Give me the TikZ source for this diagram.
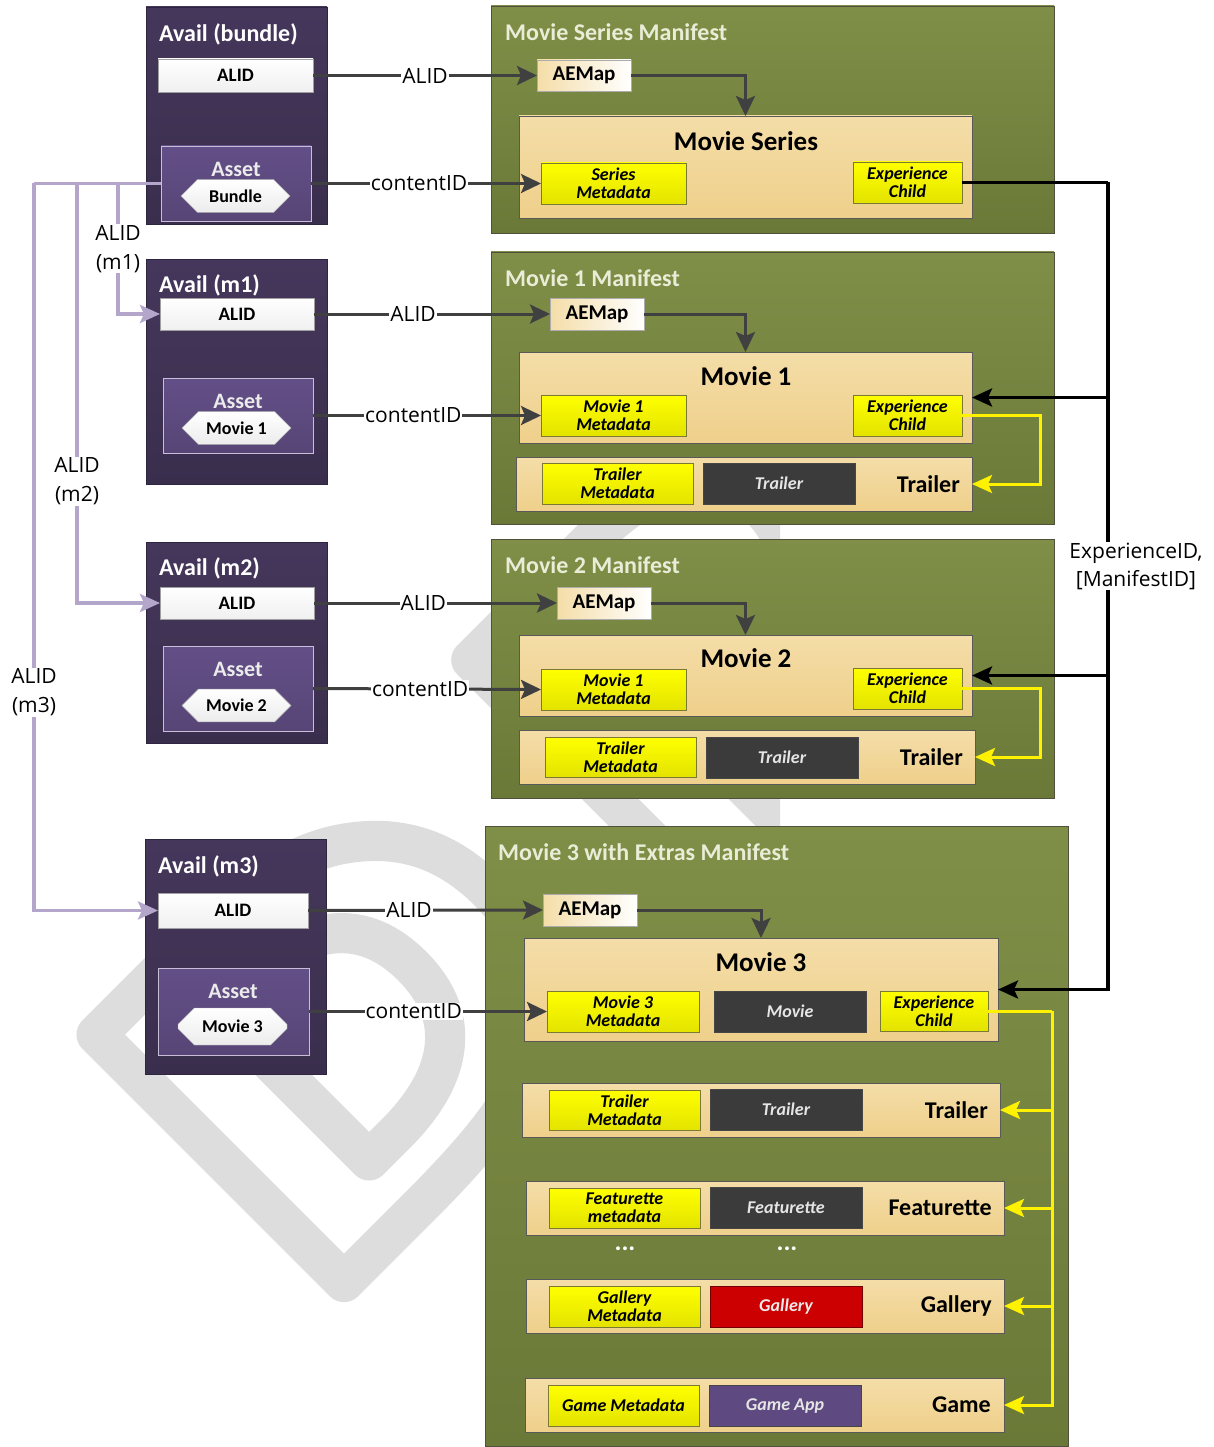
\documentclass[tikz,border=0pt]{standalone}
\usepackage{fontspec}
\setmainfont{Carlito}
\newfontfamily\lblfont{Open Sans}
\newfontfamily\wmfont[LetterSpace=15, FakeStretch=1.15]{DejaVu Sans}
\usetikzlibrary{arrows.meta,shapes.misc}

\definecolor{availTop}{HTML}{45375B}
\definecolor{availBot}{HTML}{3A2E4D}
\definecolor{availBd}{HTML}{2E2540}
\definecolor{assetTop}{HTML}{634F87}
\definecolor{assetBot}{HTML}{574576}
\definecolor{assetBd}{HTML}{C9BEDA}
\definecolor{manTop}{HTML}{7F8F47}
\definecolor{manBot}{HTML}{6B7938}
\definecolor{manBd}{HTML}{50503C}
\definecolor{manTxt}{HTML}{E9ECD6}
\definecolor{tanTop}{HTML}{F4DDA8}
\definecolor{tanBot}{HTML}{EFD08B}
\definecolor{metaBot}{HTML}{E3E300}
\definecolor{metaBd}{HTML}{7A7A34}
\definecolor{darkFill}{HTML}{3B3B3B}
\definecolor{galRed}{HTML}{CC0000}
\definecolor{gameFill}{HTML}{5E4A80}
\definecolor{arrGray}{HTML}{404040}
\definecolor{lavLine}{HTML}{B4A6CA}
\definecolor{wmGray}{HTML}{DDDDDD}

\begin{document}
\begin{tikzpicture}[x=1pt, y=-1pt,
  box/.style={rectangle, inner sep=0pt, outer sep=0pt},
  avail/.style={box, draw=availBd, top color=availTop, bottom color=availBot},
  atitle/.style={anchor=west, inner sep=0pt, text=white, font=\bfseries\fontsize{24}{24}\selectfont},
  alidbox/.style={box, draw=gray!75, top color=white, bottom color=gray!12, font=\bfseries\fontsize{19}{19}\selectfont},
  asset/.style={box, draw=assetBd, top color=assetTop, bottom color=assetBot},
  assettitle/.style={inner sep=0pt, text=white!92!black, font=\bfseries\fontsize{22}{22}\selectfont},
  octo/.style={chamfered rectangle, chamfered rectangle xsep=28pt, chamfered rectangle ysep=10pt,
    inner sep=0pt, draw=gray!60, top color=white, bottom color=gray!15, font=\bfseries\fontsize{18}{18}\selectfont},
  manif/.style={box, draw=manBd, top color=manTop, bottom color=manBot},
  mtitle/.style={anchor=west, inner sep=0pt, text=manTxt, font=\bfseries\fontsize{24}{24}\selectfont},
  aemap/.style={box, draw=gray!65, left color=tanTop, right color=white, font=\bfseries\fontsize{21}{21}\selectfont},
  tan/.style={box, draw=gray!70!black, top color=tanTop, bottom color=tanBot},
  btitle/.style={inner sep=0pt, font=\bfseries\fontsize{27}{27}\selectfont},
  meta/.style={box, draw=metaBd, top color=yellow, bottom color=metaBot, align=center,
    font=\bfseries\itshape\fontsize{18}{18}\selectfont},
  media/.style={box, draw=gray!55!black, fill=darkFill, text=gray!20, font=\bfseries\itshape\fontsize{18}{18}\selectfont},
  rowlbl/.style={anchor=east, inner sep=0pt, font=\bfseries\fontsize{24}{24}\selectfont},
  dots/.style={text=white!95!manTxt, font=\bfseries\fontsize{26}{26}\selectfont},
  lbl/.style={fill=white, inner sep=1pt, align=center, font=\lblfont\fontsize{21}{29}\selectfont},
  arr/.style={draw=arrGray, line width=3pt, -{Stealth[length=20pt,width=19pt,inset=4pt]}},
  lav/.style={draw=lavLine, line width=3.5pt},
  blk/.style={draw=black, line width=3.5pt},
  ylw/.style={draw=yellow, line width=3pt},
  tip/.style={-{Stealth[length=20pt,width=18pt,inset=4pt]}}
]
\useasboundingbox[fill=white] (0,0) rectangle (1214,1447);

% watermark
\begin{scope}
\clip (0,0) rectangle (780,1447);
\node[anchor=base west, inner sep=0pt, rotate=45, text=wmGray] (wmark) at (308,1318)
  {\wmfont\bfseries\fontsize{480}{480}\selectfont\special{pdf:literal direct 1 Tr 40 w 1 J 1 j}DRAFT};
\end{scope}

% avails
\node[avail, minimum width=181pt, minimum height=217pt] (availB) at (236.5,115.5) {};
\node[atitle] (availBT) at (159,34) {Avail (bundle)};
\node[alidbox, minimum width=155pt, minimum height=33pt] (alidB) at (235.5,75.5) {ALID};
\node[asset, minimum width=150pt, minimum height=75pt] (assetB) at (236,183.5) {};
\node[assettitle] (assetBT) at (236,169) {Asset};
\node[octo, minimum width=109pt, minimum height=30pt] (octB) at (235.5,196) {Bundle};

\node[avail, minimum width=181pt, minimum height=225pt] (avail1) at (236.5,371.5) {};
\node[atitle] (avail1T) at (159,285) {Avail (m1)};
\node[alidbox, minimum width=154pt, minimum height=32pt] (alid1) at (237,314) {ALID};
\node[asset, minimum width=150pt, minimum height=75pt] (asset1) at (238,415.5) {};
\node[assettitle] (asset1T) at (238,401) {Asset};
\node[octo, minimum width=109pt, minimum height=30pt] (oct1) at (236.5,428) {Movie 1};

\node[avail, minimum width=181pt, minimum height=201pt] (avail2) at (236.5,642.5) {};
\node[atitle] (avail2T) at (159,568) {Avail (m2)};
\node[alidbox, minimum width=154pt, minimum height=32pt] (alid2) at (237,603) {ALID};
\node[asset, minimum width=150pt, minimum height=85pt] (asset2) at (238,688.5) {};
\node[assettitle] (asset2T) at (238,669) {Asset};
\node[octo, minimum width=109pt, minimum height=31pt] (oct2) at (236.5,705.5) {Movie 2};

\node[avail, minimum width=181pt, minimum height=235pt] (avail3) at (235.5,956.5) {};
\node[atitle] (avail3T) at (158,866) {Avail (m3)};
\node[alidbox, minimum width=150pt, minimum height=35pt] (alid3) at (233,910.5) {ALID};
\node[asset, minimum width=151pt, minimum height=87pt] (asset3) at (233.5,1011.5) {};
\node[assettitle] (asset3T) at (233,991) {Asset};
\node[octo, minimum width=109pt, minimum height=37pt] (oct3) at (232.5,1026.5) {Movie 3};

% movie series manifest
\node[manif, minimum width=563pt, minimum height=227pt] (manS) at (772.5,119.5) {};
\node[mtitle] (manST) at (505,32) {Movie Series Manifest};
\node[aemap, minimum width=94pt, minimum height=31pt] (aemapS) at (584,75.5) {AEMap};
\node[tan, minimum width=453pt, minimum height=102pt] (movieS) at (745.5,167) {};
\node[btitle] (movieST) at (746,141) {Movie Series};
\node[meta, minimum width=145pt, minimum height=41pt] (metaS) at (613.5,183.5) {Series\\Metadata};
\node[meta, minimum width=109pt, minimum height=41pt] (expS) at (907.5,182.5) {Experience\\Child};

% movie 1 manifest
\node[manif, minimum width=563pt, minimum height=272pt] (man1) at (772.5,388) {};
\node[mtitle] (man1T) at (505,278) {Movie 1 Manifest};
\node[aemap, minimum width=94pt, minimum height=32pt] (aemap1) at (597,314) {AEMap};
\node[tan, minimum width=453pt, minimum height=91pt] (movie1) at (745.5,397.5) {};
\node[btitle] (movie1T) at (746,376) {Movie 1};
\node[meta, minimum width=145pt, minimum height=41pt] (meta1) at (613.5,415.5) {Movie 1\\Metadata};
\node[meta, minimum width=109pt, minimum height=41pt] (exp1) at (907.5,415.5) {Experience\\Child};
\node[tan, minimum width=456pt, minimum height=54pt] (trRow1) at (744,484) {};
\node[meta, minimum width=151pt, minimum height=41pt] (trMeta1) at (617.5,483.5) {Trailer\\Metadata};
\node[media, minimum width=152pt, minimum height=41pt] (trVid1) at (779,483.5) {Trailer};
\node[rowlbl] (trLbl1) at (960,484) {Trailer};

% movie 2 manifest
\node[manif, minimum width=563pt, minimum height=259pt] (man2) at (772.5,668.5) {};
\node[mtitle] (man2T) at (505,565) {Movie 2 Manifest};
\node[aemap, minimum width=94pt, minimum height=32pt] (aemap2) at (604,603) {AEMap};
\node[tan, minimum width=453pt, minimum height=81pt] (movie2) at (745.5,675.5) {};
\node[btitle] (movie2T) at (746,658) {Movie 2};
\node[meta, minimum width=145pt, minimum height=41pt] (meta2) at (613.5,689.5) {Movie 1\\Metadata};
\node[meta, minimum width=109pt, minimum height=41pt] (exp2) at (907.5,688.5) {Experience\\Child};
\node[tan, minimum width=456pt, minimum height=54pt] (trRow2) at (747,757) {};
\node[meta, minimum width=151pt, minimum height=40pt] (trMeta2) at (620.5,757) {Trailer\\Metadata};
\node[media, minimum width=152pt, minimum height=41pt] (trVid2) at (782,757.5) {Trailer};
\node[rowlbl] (trLbl2) at (963,757) {Trailer};

% movie 3 with extras manifest
\node[manif, minimum width=583pt, minimum height=620pt] (man3) at (776.5,1136) {};
\node[mtitle] (man3T) at (498,852) {Movie 3 with Extras Manifest};
\node[aemap, minimum width=94pt, minimum height=32pt] (aemap3) at (590,910) {AEMap};
\node[tan, minimum width=474pt, minimum height=103pt] (movie3) at (761,989.5) {};
\node[btitle] (movie3T) at (761,962) {Movie 3};
\node[meta, minimum width=152pt, minimum height=41pt] (meta3) at (623,1011.5) {Movie 3\\Metadata};
\node[media, minimum width=152pt, minimum height=41pt] (vid3) at (790,1011.5) {Movie};
\node[meta, minimum width=108pt, minimum height=40pt] (exp3) at (934,1011) {Experience\\Child};

\node[tan, minimum width=478pt, minimum height=54pt] (trRow3) at (761,1110) {};
\node[meta, minimum width=151pt, minimum height=40pt] (trMeta3) at (624.5,1110) {Trailer\\Metadata};
\node[media, minimum width=152pt, minimum height=41pt] (trVid3) at (786,1109.5) {Trailer};
\node[rowlbl] (trLbl3) at (988,1110) {Trailer};

\node[tan, minimum width=478pt, minimum height=54pt] (ftRow) at (765,1208) {};
\node[meta, minimum width=151pt, minimum height=40pt] (ftMeta) at (624.5,1208) {Featurette\\metadata};
\node[media, minimum width=152pt, minimum height=41pt] (ftVid) at (786,1207.5) {Featurette};
\node[rowlbl] (ftLbl) at (992,1208) {Featurette};

\node[dots] (dotsA) at (625,1249) {...};
\node[dots] (dotsB) at (787,1249) {...};

\node[tan, minimum width=478pt, minimum height=54pt] (glRow) at (765,1306) {};
\node[meta, minimum width=151pt, minimum height=41pt] (glMeta) at (624.5,1306.5) {Gallery\\Metadata};
\node[media, fill=galRed, draw=red!45!black, text=white!92!black, minimum width=152pt, minimum height=41pt] (glVid) at (786,1306.5) {Gallery};
\node[rowlbl] (glLbl) at (992,1306) {Gallery};

\node[tan, minimum width=479pt, minimum height=54pt] (gmRow) at (764.5,1405) {};
\node[meta, minimum width=151pt, minimum height=41pt] (gmMeta) at (623.5,1405.5) {Game Metadata};
\node[media, fill=gameFill, minimum width=152pt, minimum height=41pt] (gmApp) at (785,1405.5) {Game App};
\node[rowlbl] (gmLbl) at (991,1405) {Game};

% ALID and contentID links
\draw[arr] (alidB.east)  -- node[lbl]{ALID} (aemapS.west);
\draw[arr] (alid1.east)  -- node[lbl, pos=.42]{ALID} (aemap1.west);
\draw[arr] (alid2.east)  -- node[lbl, pos=.45]{ALID} (aemap2.west);
\draw[arr] (alid3.east)  -- node[lbl, pos=.43]{ALID} (aemap3.west);
\draw[arr] (assetB.east) -- node[lbl, pos=.47]{contentID} (metaS.west);
\draw[arr] (asset1.east) -- node[lbl, pos=.44]{contentID} (meta1.west);
\draw[arr] (asset2.east) -- node[lbl, pos=.47]{contentID} (meta2.west);
\draw[arr] (asset3.east) -- node[lbl, pos=.44]{contentID} (meta3.west);

\draw[arr] (aemapS.east) -| (movieS.north);
\draw[arr] (aemap1.east) -| (movie1.north);
\draw[arr] (aemap2.east) -| (movie2.north);
\draw[arr] (aemap3.east) -| (movie3.north);

% bundle to movie avails
\coordinate (lavJ1) at (118,183.5);
\coordinate (lavJ2) at (77,183.5);
\coordinate (lavJ3) at (34,183.5);
\draw[lav] (assetB.west) -- (lavJ3);
\draw[lav, tip] (lavJ1) |- node[lbl, pos=.25]{ALID\\(m1)} (alid1.west);
\draw[lav, tip] (lavJ2) |- node[lbl, pos=.355]{ALID\\(m2)} (alid2.west);
\draw[lav, tip] (lavJ3) |- node[lbl, pos=.35]{ALID\\(m3)} (alid3.west);

% experience links
\coordinate (expJ) at (1108,182.5);
\draw[blk] (expS.east) -- (expJ);
\draw[blk, tip] (expJ) |- (movie1.east);
\draw[blk, tip] (expJ) |- (movie2.east);
\draw[blk, tip] (expJ) |- (movie3.east);
\node[lbl, font=\lblfont\fontsize{21}{28}\selectfont] (expLbl) at (1136,566) {ExperienceID,\\{}[ManifestID]};

\draw[ylw, tip] (exp1.east) -- ++(78,0) |- (trRow1.east);
\draw[ylw, tip] (exp2.east) -- ++(78,0) |- (trRow2.east);
\coordinate (ylwJ) at (1052,1011);
\draw[ylw] (exp3.east) -- (ylwJ);
\draw[ylw, tip] (ylwJ) |- (trRow3.east);
\draw[ylw, tip] (ylwJ) |- (ftRow.east);
\draw[ylw, tip] (ylwJ) |- (glRow.east);
\draw[ylw, tip] (ylwJ) |- (gmRow.east);
\end{tikzpicture}
\end{document}
